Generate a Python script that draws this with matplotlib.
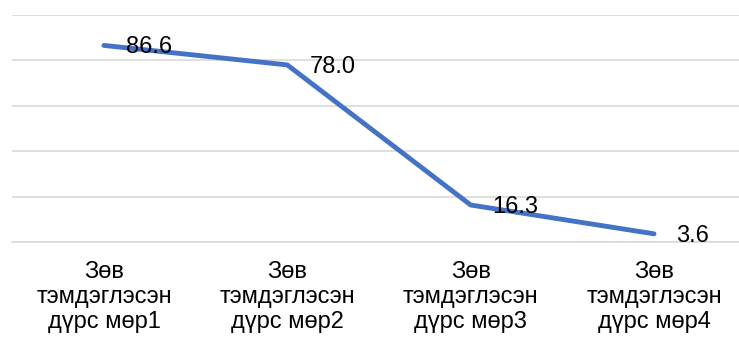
import matplotlib.pyplot as plt

plt.rcParams['font.family'] = ['Liberation Sans', 'DejaVu Sans']

categories = ['Зөв\nтэмдэглэсэн\nдүрс мөр1', 'Зөв\nтэмдэглэсэн\nдүрс мөр2',
              'Зөв\nтэмдэглэсэн\nдүрс мөр3', 'Зөв\nтэмдэглэсэн\nдүрс мөр4']
values = [86.6, 78.0, 16.3, 3.6]
labels = ['86.6', '78.0', '16.3', '3.6']

W, H = 739, 338
fig = plt.figure(figsize=(W / 100, H / 100), dpi=100)
# plot area: x from 12.3px to 745.7px (runs off the right edge), y from 15px to 242px
ax = fig.add_axes([12.3 / W, (H - 242) / H, (745.7 - 12.3) / W, (242 - 15) / H])

x = list(range(len(values)))
ax.plot(x, values, color='#4472C4', linewidth=3.5, solid_capstyle='round',
        solid_joinstyle='round', zorder=3)

for xi, v, lab in zip(x, values, labels):
    ax.annotate(lab, (xi, v), xytext=(22, -2), textcoords='offset pixels',
                ha='left', va='center', fontsize=17, color='black', zorder=4)

ax.set_xlim(-0.5, 3.5)
ax.set_ylim(0, 100)
ax.set_yticks([0, 20, 40, 60, 80, 100])
ax.yaxis.grid(True, color='#d9d9d9', linewidth=1.2)
ax.set_axisbelow(True)
ax.set_yticklabels([])
ax.tick_params(axis='y', length=0)

ax.set_xticks(x)
ax.set_xticklabels(categories, fontsize=17, linespacing=1.17)
ax.tick_params(axis='x', length=0, pad=14)

for s in ['top', 'right', 'left']:
    ax.spines[s].set_visible(False)
ax.spines['bottom'].set_color('#d9d9d9')
ax.spines['bottom'].set_linewidth(1.2)

fig.savefig('out.png', dpi=100)
